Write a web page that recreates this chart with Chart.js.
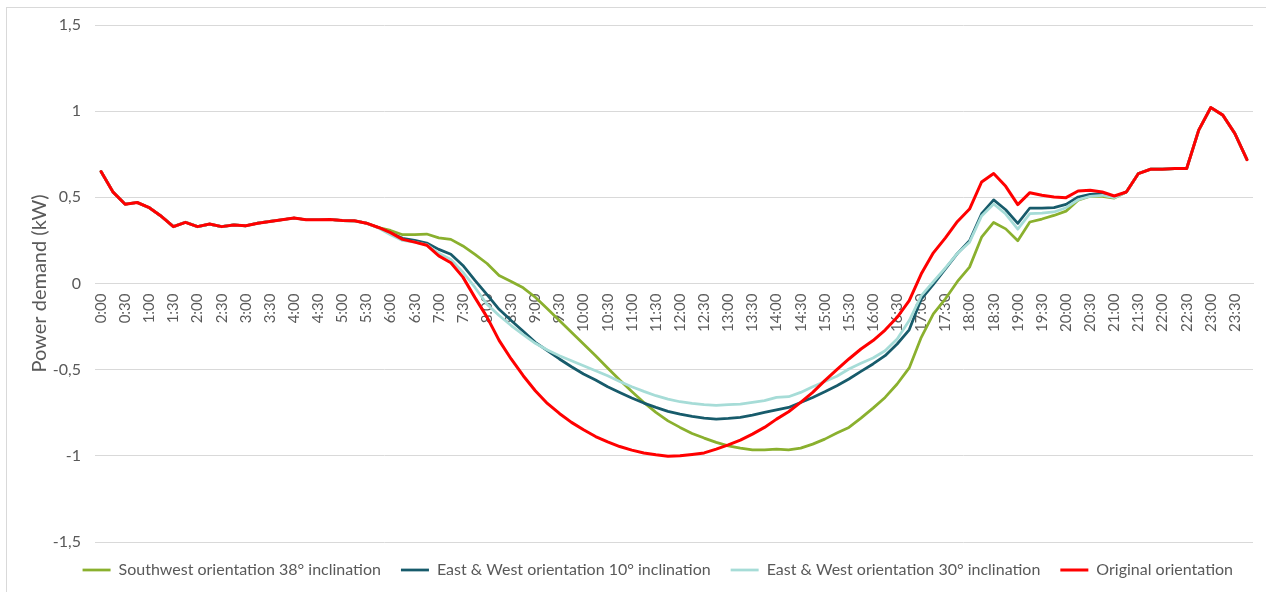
<!DOCTYPE html>
<html>
<head>
<meta charset="utf-8">
<script src="https://cdn.jsdelivr.net/npm/chart.js@4.4.1/dist/chart.umd.min.js"></script>
<style>
  html, body { margin: 0; padding: 0; background: #fff; overflow: hidden; }
  #frame { position: absolute; left: 6px; top: 7px; width: 1400px; height: 700px; border: 1px solid #d9d9d9; }
  #myChart { position: absolute; left: 0; top: 0; }
</style>
</head>
<body>
<div id="frame"></div>
<canvas id="myChart" width="1266" height="592"></canvas>
<script>
  const times = [
    '0:00', '0:15', '0:30', '0:45', '1:00', '1:15', '1:30', '1:45',
    '2:00', '2:15', '2:30', '2:45', '3:00', '3:15', '3:30', '3:45',
    '4:00', '4:15', '4:30', '4:45', '5:00', '5:15', '5:30', '5:45',
    '6:00', '6:15', '6:30', '6:45', '7:00', '7:15', '7:30', '7:45',
    '8:00', '8:15', '8:30', '8:45', '9:00', '9:15', '9:30', '9:45',
    '10:00', '10:15', '10:30', '10:45', '11:00', '11:15', '11:30', '11:45',
    '12:00', '12:15', '12:30', '12:45', '13:00', '13:15', '13:30', '13:45',
    '14:00', '14:15', '14:30', '14:45', '15:00', '15:15', '15:30', '15:45',
    '16:00', '16:15', '16:30', '16:45', '17:00', '17:15', '17:30', '17:45',
    '18:00', '18:15', '18:30', '18:45', '19:00', '19:15', '19:30', '19:45',
    '20:00', '20:15', '20:30', '20:45', '21:00', '21:15', '21:30', '21:45',
    '22:00', '22:15', '22:30', '22:45', '23:00', '23:15', '23:30', '23:45',
  ];

  // Southwest orientation 38° inclination
  const southwest38 = [
    0.65, 0.53, 0.46, 0.47, 0.44, 0.39, 0.33, 0.355,
    0.33, 0.345, 0.33, 0.34, 0.335, 0.35, 0.36, 0.37,
    0.38, 0.37, 0.37, 0.372, 0.365, 0.364, 0.35, 0.325,
    0.308, 0.283, 0.283, 0.287, 0.265, 0.256, 0.218, 0.169,
    0.116, 0.046, 0.012, -0.025, -0.08, -0.147, -0.215, -0.283,
    -0.351, -0.419, -0.49, -0.56, -0.626, -0.69, -0.748, -0.797,
    -0.835, -0.87, -0.897, -0.922, -0.942, -0.955, -0.965, -0.965,
    -0.961, -0.965, -0.955, -0.932, -0.903, -0.868, -0.835, -0.781,
    -0.723, -0.661, -0.583, -0.49, -0.312, -0.176, -0.089, 0.012,
    0.095, 0.269, 0.354, 0.317, 0.248, 0.357, 0.374, 0.395,
    0.42, 0.483, 0.506, 0.506, 0.496, 0.531, 0.638, 0.663,
    0.663, 0.667, 0.667, 0.89, 1.021, 0.977, 0.87, 0.719,
  ];

  // East & West orientation 10° inclination
  const eastWest10 = [
    0.65, 0.53, 0.46, 0.47, 0.44, 0.39, 0.33, 0.355,
    0.33, 0.345, 0.33, 0.34, 0.335, 0.35, 0.36, 0.37,
    0.38, 0.37, 0.37, 0.372, 0.365, 0.364, 0.35, 0.325,
    0.293, 0.262, 0.25, 0.235, 0.198, 0.17, 0.105, 0.018,
    -0.065, -0.15, -0.215, -0.277, -0.341, -0.39, -0.438, -0.483,
    -0.525, -0.56, -0.599, -0.632, -0.665, -0.694, -0.719, -0.742,
    -0.758, -0.771, -0.781, -0.787, -0.783, -0.777, -0.764, -0.748,
    -0.733, -0.719, -0.69, -0.661, -0.628, -0.593, -0.554, -0.51,
    -0.467, -0.419, -0.351, -0.269, -0.09, -0.005, 0.085, 0.175,
    0.248, 0.405, 0.485, 0.428, 0.349, 0.438, 0.438, 0.44,
    0.459, 0.502, 0.517, 0.521, 0.502, 0.531, 0.638, 0.663,
    0.663, 0.667, 0.667, 0.89, 1.021, 0.977, 0.87, 0.719,
  ];

  // East & West orientation 30° inclination
  const eastWest30 = [
    0.65, 0.53, 0.46, 0.47, 0.44, 0.39, 0.33, 0.355,
    0.33, 0.345, 0.33, 0.34, 0.335, 0.35, 0.36, 0.37,
    0.38, 0.37, 0.37, 0.372, 0.365, 0.364, 0.35, 0.322,
    0.283, 0.25, 0.24, 0.225, 0.175, 0.14, 0.066, -0.023,
    -0.12, -0.186, -0.244, -0.297, -0.347, -0.386, -0.419, -0.448,
    -0.477, -0.506, -0.535, -0.568, -0.599, -0.626, -0.651, -0.671,
    -0.686, -0.696, -0.703, -0.707, -0.703, -0.7, -0.69, -0.68,
    -0.661, -0.657, -0.632, -0.599, -0.568, -0.538, -0.496, -0.463,
    -0.432, -0.39, -0.322, -0.215, -0.07, 0.01, 0.09, 0.175,
    0.24, 0.392, 0.461, 0.403, 0.315, 0.405, 0.409, 0.415,
    0.44, 0.486, 0.506, 0.512, 0.498, 0.531, 0.638, 0.663,
    0.663, 0.667, 0.667, 0.89, 1.021, 0.977, 0.87, 0.719,
  ];

  // Original orientation
  const original = [
    0.65, 0.53, 0.46, 0.47, 0.44, 0.39, 0.33, 0.355,
    0.33, 0.345, 0.33, 0.34, 0.335, 0.35, 0.36, 0.37,
    0.38, 0.37, 0.37, 0.372, 0.365, 0.364, 0.35, 0.325,
    0.295, 0.256, 0.24, 0.222, 0.16, 0.12, 0.037, -0.082,
    -0.195, -0.33, -0.438, -0.535, -0.622, -0.696, -0.754, -0.806,
    -0.849, -0.888, -0.919, -0.946, -0.967, -0.984, -0.994, -1.002,
    -1.0, -0.992, -0.983, -0.961, -0.936, -0.909, -0.874, -0.835,
    -0.787, -0.744, -0.69, -0.632, -0.564, -0.5, -0.438, -0.38,
    -0.331, -0.27, -0.196, -0.1, 0.056, 0.178, 0.265, 0.36,
    0.432, 0.589, 0.638, 0.564, 0.458, 0.527, 0.512, 0.502,
    0.498, 0.537, 0.541, 0.531, 0.508, 0.531, 0.638, 0.663,
    0.663, 0.667, 0.667, 0.89, 1.021, 0.977, 0.87, 0.719,
  ];

  const yTicks = [-1.5, -1, -0.5, 0, 0.5, 1, 1.5];

  const textColor = '#595959';
  const gridColor = '#d9d9d9';
  const fontFamily = 'Lato, "Open Sans", sans-serif';

  function line(label, values, color, width) {
    return {
      label: label,
      data: values,
      borderColor: color,
      backgroundColor: color,
      borderWidth: width,
      pointRadius: 0,
      pointHoverRadius: 0,
      tension: 0,
      fill: false,
      borderJoinStyle: 'round',
      borderCapStyle: 'round',
    };
  }

  // first dataset is drawn on top, legend is reversed to get Excel order
  const data = {
    labels: times,
    datasets: [
      line('Original orientation', original, '#ff0000', 3),
      line('East & West orientation 30° inclination', eastWest30, '#a6dcd7', 2.75),
      line('East & West orientation 10° inclination', eastWest10, '#175b6b', 2.75),
      line('Southwest orientation 38° inclination', southwest38, '#8ab02e', 2.75),
    ]
  };

  const config = {
    type: 'line',
    data: data,
    options: {
      responsive: false,
      animation: false,
      devicePixelRatio: 1,
      layout: { padding: { left: 0, right: 13, top: 25, bottom: 4 } },
      plugins: {
        tooltip: { enabled: false },
        legend: {
          position: 'bottom',
          align: 'end',
          reverse: true,
          maxHeight: 50,
          labels: {
            usePointStyle: true,
            pointStyle: 'line',
            pointStyleWidth: 28,
            padding: 20,
            color: textColor,
            font: { family: fontFamily, size: 16 },
          }
        }
      },
      scales: {
        x: {
          position: { y: 0 },
          offset: true,
          afterFit: function(scale) {
            // the axis sits at y = 0, its labels need no side room
            scale.paddingLeft = 0;
            scale.paddingRight = 0;
          },
          grid: { display: false, drawTicks: false },
          border: { display: true, color: gridColor, width: 1 },
          ticks: {
            autoSkip: false,
            minRotation: 90,
            maxRotation: 90,
            padding: 10,
            color: textColor,
            font: { family: fontFamily, size: 15 },
            callback: function(val, idx) {
              return idx % 2 === 0 ? this.getLabelForValue(val) : '';
            }
          }
        },
        y: {
          min: -1.5,
          max: 1.5,
          afterBuildTicks: function(scale) {
            scale.ticks = yTicks.map(v => ({ value: v }));
          },
          afterFit: function(scale) {
            scale.width = 95;
          },
          grid: { color: gridColor, lineWidth: 1, drawTicks: false },
          border: { display: false },
          ticks: {
            padding: 14,
            color: textColor,
            font: { family: fontFamily, size: 16 },
            callback: v => String(v).replace('.', ',')
          },
          title: {
            display: true,
            text: 'Power demand (kW)',
            color: textColor,
            padding: { top: 28, bottom: 4 },
            font: { family: fontFamily, size: 20 },
          }
        }
      }
    }
  };

  const myChart = new Chart(
    document.getElementById('myChart'),
    config
  );
</script>
</body>
</html>
